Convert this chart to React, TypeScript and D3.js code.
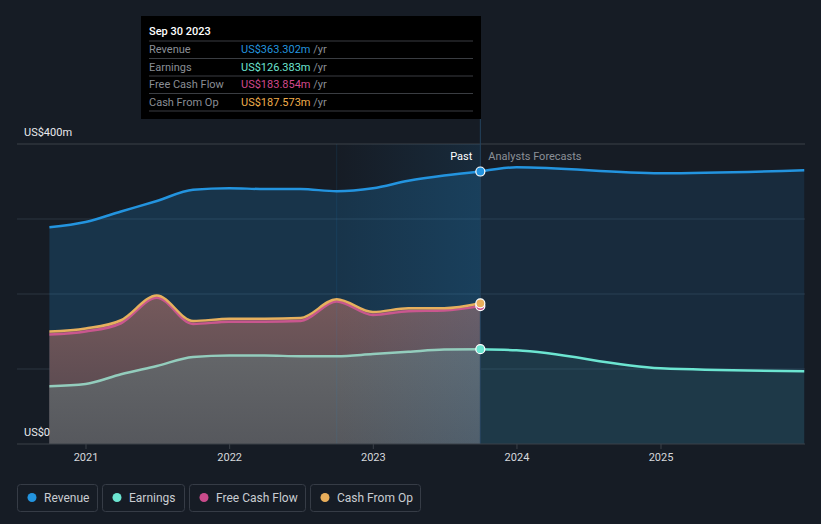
import * as d3 from "d3";
import { useRef, useEffect } from "react";

// quarterly history (trailing twelve months), US$m
const pastDates = [
  "2020-09-30", "2020-12-31", "2021-03-31", "2021-06-30", "2021-09-30",
  "2021-12-31", "2022-03-31", "2022-06-30", "2022-09-30", "2022-12-31",
  "2023-03-31", "2023-06-30", "2023-09-30",
];
const revenuePast = [289, 296, 310, 324, 339, 341, 340, 340, 337, 341, 351, 358, 363.302];
const earningsPast = [77, 80, 93, 104, 116, 118, 118, 117, 117, 120, 123, 126, 126.383];
const fcfPast = [146, 150, 161, 195, 160, 163, 163, 164, 190, 172, 177, 178, 183.854];
const cfoPast = [150, 154, 165, 198, 164, 167, 167, 168, 193, 176, 181, 181, 187.573];

// analyst forecasts
const forecastDates = ["2023-09-30", "2023-12-31", "2024-12-31", "2025-12-31"];
const revenueForecast = [363.302, 369, 361, 365];
const earningsForecast = [126.383, 125, 101, 97];

const yearTicks = [2021, 2022, 2023, 2024, 2025];
const yTicks = [0, 100, 200, 300, 400];

const legendItems = [
  { name: "Revenue", color: "#2394df" },
  { name: "Earnings", color: "#6ce5d1" },
  { name: "Free Cash Flow", color: "#c94b8b" },
  { name: "Cash From Op", color: "#e9ae5b" },
];

const tooltipRows = [
  { name: "Revenue", value: "US$363.302m", color: "#2394df" },
  { name: "Earnings", value: "US$126.383m", color: "#6ce5d1" },
  { name: "Free Cash Flow", value: "US$183.854m", color: "#d1488c" },
  { name: "Cash From Op", value: "US$187.573m", color: "#f0ae4c" },
];

const W = 821;
const H = 524;
const FONT = "Roboto, 'Noto Sans', sans-serif";

type Pt = { date: Date; value: number };

const toPts = (dates: string[], values: number[]): Pt[] =>
  dates.map((d, i) => ({ date: new Date(d + "T00:00:00"), value: values[i] }));

function draw(svgEl: SVGSVGElement | null) {
  if (!svgEl) return;
  const svg = d3.select(svgEl);
  svg.selectAll("*").remove();

  const x = d3
    .scaleTime()
    .domain([new Date(2021, 0, 1), new Date(2025, 0, 1)])
    .range([86, 661]);
  const y = d3.scaleLinear().domain([0, 400]).range([444, 144]);

  const left = 17;
  const right = 805;
  const pastEnd = x(new Date(2023, 8, 30));
  const bandStart = x(new Date(2022, 8, 30));

  const defs = svg.append("defs");
  const band = defs
    .append("linearGradient")
    .attr("id", "band")
    .attr("x1", 0)
    .attr("x2", 1)
    .attr("y1", 0)
    .attr("y2", 0);
  band.append("stop").attr("offset", 0).attr("stop-color", "#2394df").attr("stop-opacity", 0.0);
  band.append("stop").attr("offset", 1).attr("stop-color", "#2394df").attr("stop-opacity", 0.12);

  const cfoGrad = defs
    .append("linearGradient")
    .attr("id", "cfoGrad")
    .attr("gradientUnits", "userSpaceOnUse")
    .attr("x1", 0)
    .attr("x2", 0)
    .attr("y1", y(200))
    .attr("y2", y(0));
  cfoGrad.append("stop").attr("offset", 0).attr("stop-color", "#765a5c");
  cfoGrad.append("stop").attr("offset", 1).attr("stop-color", "#4f444c");

  const earnGrad = defs
    .append("linearGradient")
    .attr("id", "earnGrad")
    .attr("gradientUnits", "userSpaceOnUse")
    .attr("x1", 0)
    .attr("x2", 0)
    .attr("y1", y(130))
    .attr("y2", y(0));
  earnGrad.append("stop").attr("offset", 0).attr("stop-color", "#65676a");
  earnGrad.append("stop").attr("offset", 1).attr("stop-color", "#56585d");

  // background
  svg.append("rect").attr("width", W).attr("height", H).attr("fill", "#161c25");

  // grid
  svg
    .append("g")
    .selectAll("line")
    .data(yTicks.filter((t) => t > 0))
    .join("line")
    .attr("x1", left)
    .attr("x2", right)
    .attr("y1", (d) => y(d))
    .attr("y2", (d) => y(d))
    .attr("stroke", (d) => (d === 400 ? "#3b4049" : "#2a3441"))
    .attr("stroke-width", 1);

  const rev = toPts(pastDates, revenuePast);
  const earn = toPts(pastDates, earningsPast);
  const fcf = toPts(pastDates, fcfPast);
  const cfo = toPts(pastDates, cfoPast);
  const revF = toPts(forecastDates, revenueForecast);
  const earnF = toPts(forecastDates, earningsForecast);

  const area = d3
    .area<Pt>()
    .x((d) => x(d.date))
    .y0(y(0))
    .y1((d) => y(d.value))
    .curve(d3.curveMonotoneX);
  const line = d3
    .line<Pt>()
    .x((d) => x(d.date))
    .y((d) => y(d.value))
    .curve(d3.curveMonotoneX);

  const g = svg.append("g");

  // forecast areas
  g.append("path").attr("d", area(revF)).attr("fill", "#2394df").attr("opacity", 0.13);
  g.append("path").attr("d", area(earnF)).attr("fill", "#6ce5d1").attr("opacity", 0.08);

  // past areas
  g.append("path").attr("d", area(rev)).attr("fill", "#2394df").attr("opacity", 0.2);
  g.append("path").attr("d", area(cfo)).attr("fill", "url(#cfoGrad)");
  g.append("path").attr("d", area(earn)).attr("fill", "url(#earnGrad)");

  // last-year highlight band
  g.append("rect")
    .attr("x", bandStart)
    .attr("y", y(400))
    .attr("width", pastEnd - bandStart)
    .attr("height", y(0) - y(400))
    .attr("fill", "url(#band)");
  g.append("line")
    .attr("x1", bandStart)
    .attr("x2", bandStart)
    .attr("y1", y(400))
    .attr("y2", y(0))
    .attr("stroke", "#2394df")
    .attr("stroke-opacity", 0.12)
    .attr("stroke-width", 1);

  // lines
  g.append("path").attr("d", line(revF)).attr("fill", "none").attr("stroke", "#2394df").attr("stroke-width", 2.5);
  g.append("path").attr("d", line(earnF)).attr("fill", "none").attr("stroke", "#6ce5d1").attr("stroke-width", 2.5);
  g.append("path").attr("d", line(rev)).attr("fill", "none").attr("stroke", "#2394df").attr("stroke-width", 2.5);
  g.append("path").attr("d", line(earn)).attr("fill", "none").attr("stroke", "#93cdbd").attr("stroke-width", 2.5);
  g.append("path").attr("d", line(fcf)).attr("fill", "none").attr("stroke", "#c9578e").attr("stroke-width", 2.5);
  g.append("path").attr("d", line(cfo)).attr("fill", "none").attr("stroke", "#e6b05e").attr("stroke-width", 2.5);

  // past / forecast divider
  g.append("line")
    .attr("x1", pastEnd)
    .attr("x2", pastEnd)
    .attr("y1", 119)
    .attr("y2", y(0))
    .attr("stroke", "#23415d")
    .attr("stroke-width", 1);

  // markers at the last reported point
  const last = [
    { v: revenuePast[revenuePast.length - 1], c: "#2394df" },
    { v: earningsPast[earningsPast.length - 1], c: "#6ce5d1" },
    { v: fcfPast[fcfPast.length - 1], c: "#c94b8b" },
    { v: cfoPast[cfoPast.length - 1], c: "#e9ae5b" },
  ];
  g.selectAll("circle.mk")
    .data(last)
    .join("circle")
    .attr("class", "mk")
    .attr("cx", pastEnd)
    .attr("cy", (d) => y(d.v))
    .attr("r", 4.5)
    .attr("fill", (d) => d.c)
    .attr("stroke", "#ffffff")
    .attr("stroke-width", 1.2);

  // x axis
  const ax = svg.append("g");
  ax.append("line")
    .attr("x1", left)
    .attr("x2", right)
    .attr("y1", y(0))
    .attr("y2", y(0))
    .attr("stroke", "#3b4049");
  const tk = ax
    .selectAll("g.tick")
    .data(yearTicks)
    .join("g")
    .attr("class", "tick")
    .attr("transform", (d) => `translate(${x(new Date(d, 0, 1))},${y(0)})`);
  tk.append("line").attr("y2", 5).attr("stroke", "#3b4049");
  tk.append("text")
    .attr("y", 17)
    .attr("text-anchor", "middle")
    .attr("font-family", FONT)
    .attr("font-size", 11)
    .attr("fill", "#d5d8dc")
    .text((d) => d);

  // y labels
  svg.append("text")
    .attr("x", 24)
    .attr("y", 136)
    .attr("font-family", FONT)
    .attr("font-size", 11)
    .attr("fill", "#e8eaed")
    .text("US$400m");
  svg.append("text")
    .attr("x", 24)
    .attr("y", 436)
    .attr("font-family", FONT)
    .attr("font-size", 11)
    .attr("fill", "#e8eaed")
    .text("US$0");

  svg.append("text")
    .attr("x", pastEnd - 8)
    .attr("y", 160)
    .attr("text-anchor", "end")
    .attr("font-family", FONT)
    .attr("font-size", 11)
    .attr("fill", "#ffffff")
    .text("Past");
  svg.append("text")
    .attr("x", pastEnd + 8)
    .attr("y", 160)
    .attr("font-family", FONT)
    .attr("font-size", 11)
    .attr("fill", "#8b9097")
    .text("Analysts Forecasts");

  // tooltip
  const tt = svg.append("g");
  tt.append("rect").attr("x", 141).attr("y", 16).attr("width", 340).attr("height", 103).attr("fill", "#000000");
  tt.append("text")
    .attr("x", 149)
    .attr("y", 35)
    .attr("font-family", FONT)
    .attr("font-size", 11)
    .attr("font-weight", 500)
    .attr("fill", "#ffffff")
    .text("Sep 30 2023");
  const rowY = [41, 58.5, 76, 93.5, 111];
  tt.selectAll("line")
    .data(rowY)
    .join("line")
    .attr("x1", 149)
    .attr("x2", 473)
    .attr("y1", (d) => d)
    .attr("y2", (d) => d)
    .attr("stroke", "#3a3d42");
  const rows = tt
    .selectAll("g.row")
    .data(tooltipRows)
    .join("g")
    .attr("class", "row")
    .attr("transform", (_, i) => `translate(0,${rowY[i] + 12})`);
  rows.append("text")
    .attr("x", 149)
    .attr("font-family", FONT)
    .attr("font-size", 11)
    .attr("fill", "#8a8e95")
    .text((d) => d.name);
  const val = rows
    .append("text")
    .attr("x", 241)
    .attr("font-family", FONT)
    .attr("font-size", 11);
  val.append("tspan").attr("fill", (d) => d.color).text((d) => d.value);
  val.append("tspan").attr("fill", "#8a8e95").text(" /yr");

  // legend
  const widths = [80, 82, 116, 110];
  let lx = 17;
  const lg = svg.append("g");
  legendItems.forEach((item, i) => {
    const it = lg.append("g").attr("transform", `translate(${lx},484)`);
    it.append("rect")
      .attr("x", 0.5)
      .attr("y", 0.5)
      .attr("width", widths[i])
      .attr("height", 27)
      .attr("rx", 3)
      .attr("fill", "none")
      .attr("stroke", "#363c46");
    it.append("circle").attr("cx", 15).attr("cy", 13.5).attr("r", 4.5).attr("fill", item.color);
    it.append("text")
      .attr("x", 27)
      .attr("y", 17.5)
      .attr("font-family", FONT)
      .attr("font-size", 12)
      .attr("fill", "#c9cdd2")
      .text(item.name);
    lx += widths[i] + 5;
  });
}

const App = () => {
  const ref = useRef<SVGSVGElement | null>(null);

  useEffect(() => {
    document.body.style.margin = "0";
    document.body.style.background = "#161c25";
    draw(ref.current);
  }, []);

  return (
    <div style={{ width: W, height: H }}>
      <svg ref={ref} width={W} height={H} style={{ display: "block" }}></svg>
    </div>
  );
};

export default App;
